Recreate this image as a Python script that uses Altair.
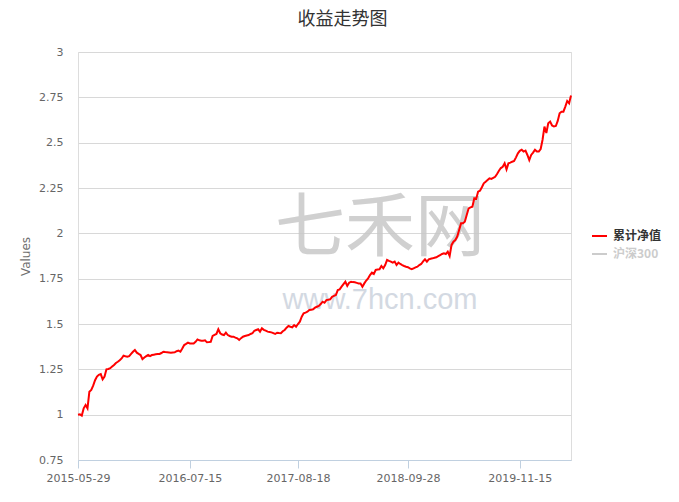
import altair as alt
import pandas as pd

# ---- data (weekly net value) ----
start_date = "2015-05-29"
nav = [
    1.000, 1.002, 0.995, 1.035, 1.053, 1.035, 1.127, 1.136, 1.160, 1.190,
    1.210, 1.220, 1.224, 1.195, 1.210, 1.250, 1.252, 1.256, 1.265, 1.274,
    1.285, 1.292, 1.300, 1.310, 1.325, 1.322, 1.320, 1.323, 1.335, 1.347,
    1.357, 1.342, 1.335, 1.329, 1.306, 1.315, 1.323, 1.329, 1.323, 1.329,
    1.331, 1.333, 1.334, 1.335, 1.340, 1.347, 1.345, 1.344, 1.343, 1.342,
    1.343, 1.344, 1.350, 1.353, 1.347, 1.365, 1.384, 1.390, 1.397, 1.393,
    1.393, 1.393, 1.402, 1.415, 1.410, 1.408, 1.408, 1.410, 1.399, 1.400,
    1.402, 1.434, 1.440, 1.445, 1.471, 1.449, 1.442, 1.439, 1.452, 1.439,
    1.434, 1.430, 1.430, 1.425, 1.421, 1.412, 1.422, 1.430, 1.434, 1.437,
    1.439, 1.445, 1.449, 1.463, 1.467, 1.471, 1.458, 1.476, 1.468, 1.463,
    1.458, 1.456, 1.454, 1.450, 1.445, 1.452, 1.450, 1.449, 1.460, 1.467,
    1.480, 1.489, 1.485, 1.482, 1.494, 1.485, 1.500, 1.513, 1.540, 1.559,
    1.563, 1.568, 1.577, 1.579, 1.581, 1.590, 1.595, 1.600, 1.610, 1.623,
    1.617, 1.632, 1.634, 1.636, 1.650, 1.655, 1.660, 1.687, 1.691, 1.706,
    1.720, 1.733, 1.710, 1.728, 1.733, 1.731, 1.730, 1.727, 1.724, 1.724,
    1.706, 1.724, 1.740, 1.752, 1.770, 1.783, 1.776, 1.798, 1.800, 1.802,
    1.820, 1.807, 1.825, 1.853, 1.848, 1.844, 1.838, 1.844, 1.825, 1.838,
    1.831, 1.825, 1.820, 1.816, 1.813, 1.807, 1.802, 1.807, 1.812, 1.816,
    1.825, 1.831, 1.845, 1.857, 1.844, 1.857, 1.860, 1.862, 1.865, 1.868,
    1.874, 1.880, 1.886, 1.890, 1.886, 1.899, 1.875, 1.936, 1.954, 1.963,
    1.982, 2.018, 2.055, 2.055, 2.064, 2.101, 2.137, 2.143, 2.147, 2.193,
    2.190, 2.230, 2.235, 2.254, 2.276, 2.285, 2.294, 2.303, 2.300, 2.306,
    2.312, 2.327, 2.345, 2.360, 2.367, 2.386, 2.353, 2.386, 2.390, 2.395,
    2.399, 2.419, 2.441, 2.455, 2.461, 2.451, 2.456, 2.432, 2.404, 2.432,
    2.445, 2.461, 2.451, 2.451, 2.465, 2.516, 2.589, 2.553, 2.607, 2.616,
    2.595, 2.589, 2.592, 2.620, 2.662, 2.671, 2.671, 2.699, 2.730, 2.717,
    2.760,
]
series = ["累计净值", "沪深300"]
series_colors = ["#ff0000", "#cccccc"]
legend_label_colors = ["#333333", "#cccccc"]
x_tick_labels = ["2015-05-29", "2016-07-15", "2017-08-18", "2018-09-28", "2019-11-15"]
y_ticks = [0.75, 1, 1.25, 1.5, 1.75, 2, 2.25, 2.5, 2.75, 3]
chart_title = "收益走势图"
y_title = "Values"
watermark_big = "七禾网"
watermark_small = "www.7hcn.com"

dates = pd.date_range(start_date, periods=len(nav), freq="7D")
df = pd.DataFrame({"date": dates, "value": nav, "series": series[0]})


def dt(s):
    y, m, d = (int(p) for p in s.split("-"))
    return alt.DateTime(year=y, month=m, date=d)


label_font = "DejaVu Sans"
cjk_font = "Noto Sans CJK SC"
title_font = "Liberation Sans, Noto Sans CJK SC"

x_enc = alt.X(
    "date:T",
    scale=alt.Scale(domain=[dt(start_date), dt(str(dates[-1].date()))]),
    axis=alt.Axis(
        values=[dt(s) for s in x_tick_labels],
        format="%Y-%m-%d",
        title=None,
        grid=False,
        domainColor="#c0d0e0",
        tickColor="#c0d0e0",
        tickSize=8,
        labelColor="#666666",
        labelFontSize=11,
        labelFont=label_font,
        labelPadding=4,
        labelFlush=False,
    ),
)
y_enc = alt.Y(
    "value:Q",
    scale=alt.Scale(domain=[0.75, 3], nice=False, zero=False),
    axis=alt.Axis(
        values=y_ticks,
        labelExpr="'' + datum.value",
        title=y_title,
        titleAngle=-90,
        titleX=-53,
        titleY=204,
        titleAlign="center",
        titleBaseline="middle",
        titleColor="#707070",
        titleFont=label_font,
        titleFontSize=12,
        titleFontWeight="normal",
        domain=False,
        ticks=False,
        grid=True,
        gridColor="#d8d8d8",
        labelColor="#666666",
        labelFontSize=11,
        labelFont=label_font,
        labelPadding=15,
    ),
)

one = pd.DataFrame({"k": [0]})

wm_big = alt.Chart(one).mark_text(
    text=watermark_big, font=cjk_font, fontSize=70, color="#c8c8c8", opacity=0.85,
    align="center", baseline="middle",
).encode(x=alt.value(302), y=alt.value(178))
wm_small = alt.Chart(one).mark_text(
    text=watermark_small, font="Liberation Sans", fontSize=29, color="#d3d9e2",
    align="center", baseline="middle",
).encode(x=alt.value(302), y=alt.value(248))

line = alt.Chart(df).mark_line(color=series_colors[0], strokeWidth=2).encode(
    x=x_enc, y=y_enc
)

legend_layers = []
for i, name in enumerate(series):
    row = pd.DataFrame({"s": [name]})
    yy = 184 + 18 * i
    legend_layers.append(
        alt.Chart(row).mark_rule(color=series_colors[i], strokeWidth=2).encode(
            x=alt.value(514), x2=alt.value(529), y=alt.value(yy)
        )
    )
    legend_layers.append(
        alt.Chart(row).mark_text(
            align="left", baseline="middle", font=cjk_font, fontSize=12,
            fontWeight="bold", color=legend_label_colors[i],
        ).encode(x=alt.value(535), y=alt.value(yy), text="s:N")
    )

chart = alt.layer(wm_big, wm_small, line, *legend_layers).properties(
    width=493,
    height=408,
    padding={"left": 70, "top": 44, "right": 100, "bottom": 34},
    autosize=alt.AutoSizeParams(type="none"),
    title=alt.TitleParams(
        chart_title, font=title_font, fontSize=18, fontWeight="normal",
        color="#333333", anchor="middle", dx=18, offset=17,
    ),
).configure_view(stroke=None).configure(background="white")

chart.save("out.html", embed_options={"renderer": "svg", "actions": False})
